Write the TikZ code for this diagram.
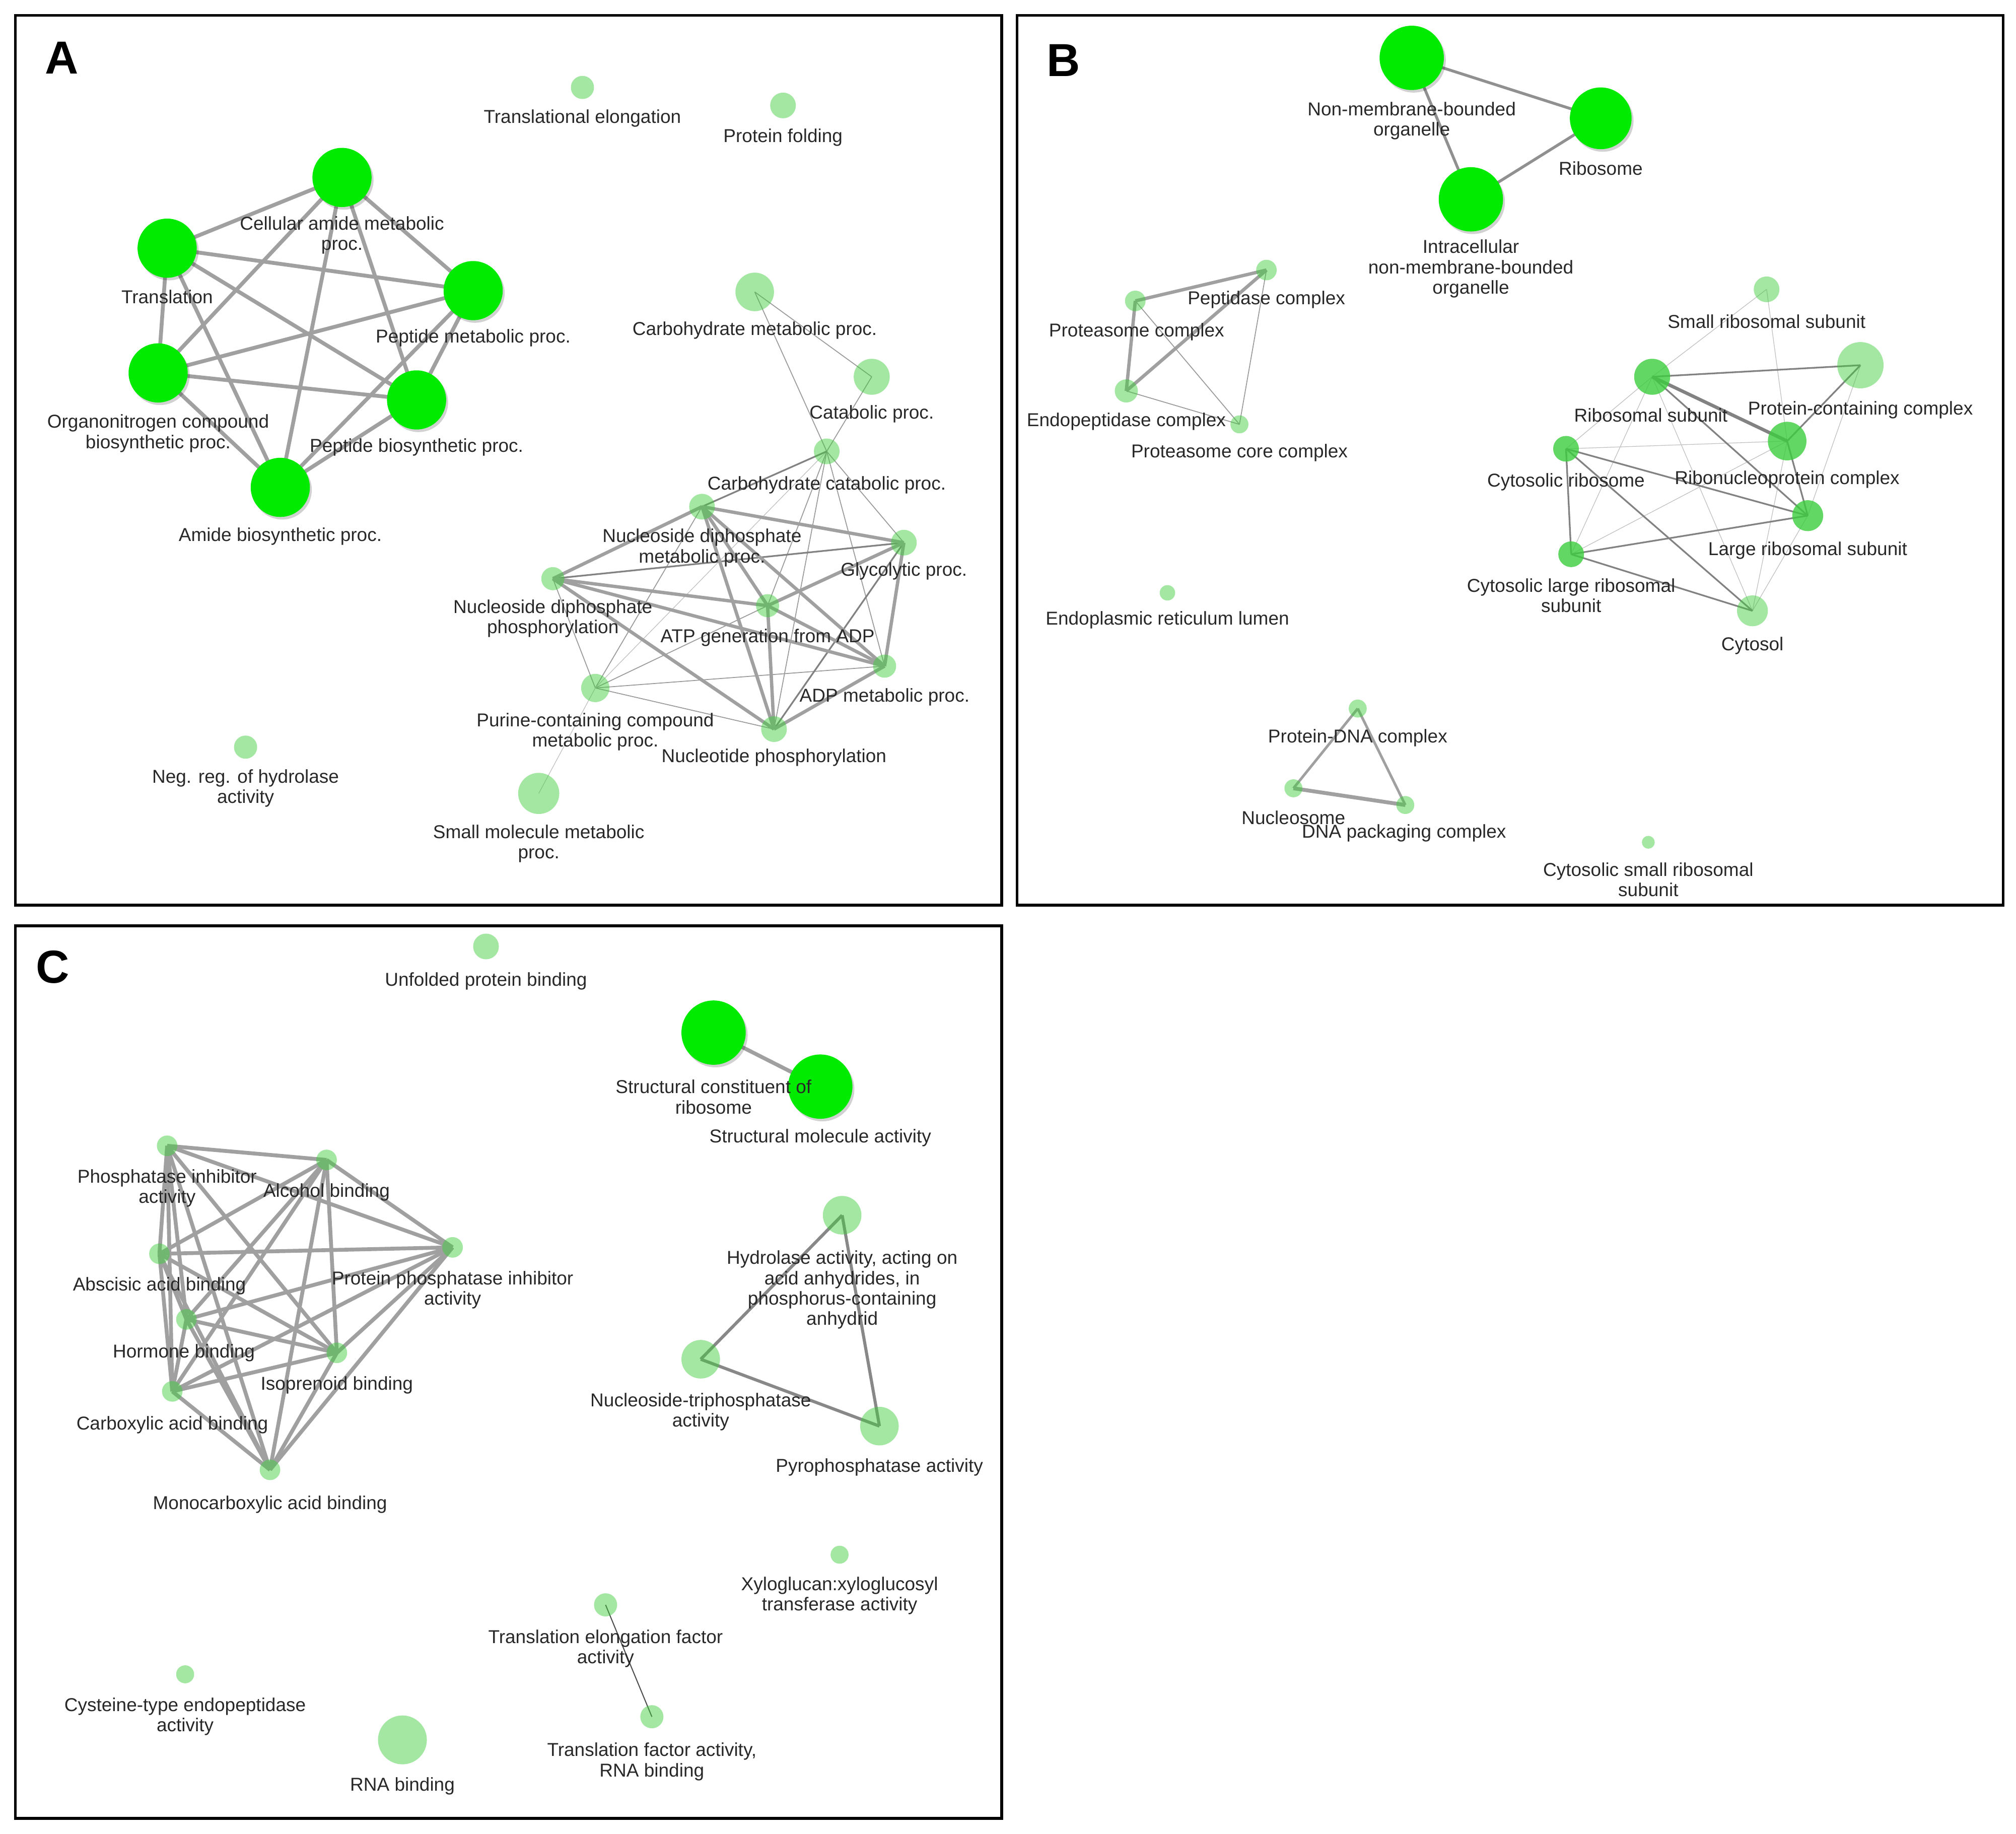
\documentclass[tikz,border=0pt]{standalone}
\usepackage{fontspec}
\setmainfont{Liberation Sans}
\usetikzlibrary{backgrounds,shadows}
\definecolor{brightg}{RGB}{0,235,0}
\definecolor{lightg}{RGB}{60,205,60}
\definecolor{txt}{RGB}{40,40,40}
\definecolor{edg}{RGB}{160,160,160}
\definecolor{edgd}{RGB}{130,130,130}
\begin{document}
\begin{tikzpicture}[x=1pt,y=-1pt,
  bn/.style={circle,fill=brightg,inner sep=0pt,minimum size=#1,
    drop shadow={shadow xshift=1.5pt,shadow yshift=-2pt,opacity=0.18,fill=black}},
  ln/.style={circle,fill=lightg,fill opacity=0.47,inner sep=0pt,minimum size=#1},
  mn/.style={circle,fill=lightg,fill opacity=0.8,inner sep=0pt,minimum size=#1},
  lab/.style={text=txt,font=\fontsize{14.5}{15.8}\selectfont,align=center,inner sep=0pt},
  plet/.style={font=\fontsize{36}{36}\selectfont\bfseries,text=black,inner sep=0pt},
  frame/.style={draw=black,line width=2.2pt},
  eb/.style={draw=edg,line width=3pt},
  ek/.style={draw=edg,line width=2.6pt},
  em/.style={draw=edgd,line width=1.3pt},
  et/.style={draw=edgd!80,line width=0.7pt},
  ex/.style={draw=edgd!50,line width=0.5pt}]
\useasboundingbox (0,0) rectangle (1568,1426.2);
% frames
\draw[frame] (12,12) rectangle (779,704);
\draw[frame] (791,12) rectangle (1558,704);
\draw[frame] (12,720) rectangle (779,1414);
\node[plet] (pA) at (48,45) {A};
\node[plet] (pB) at (827,47) {B};
\node[plet] (pC) at (41,752) {C};

% ================= Panel A =================
\node[ln=18pt] (tel) at (453,68) {};
\node[lab] (ltel) at (453,92) {Translational elongation};
\node[ln=20pt] (pf) at (609,82) {};
\node[lab] (lpf) at (609,107) {Protein folding};

\node[bn=46pt] (cam) at (266,138) {};
\node[bn=46pt] (tr) at (130,193) {};
\node[bn=46pt] (pmp) at (368,226) {};
\node[bn=46pt] (ocb) at (123,290) {};
\node[bn=46pt] (pbp) at (324,311) {};
\node[bn=46pt] (abp) at (218,379) {};
\node[lab] (lcam) at (266,183) {Cellular amide metabolic\\proc.};
\node[lab] (ltr) at (130,231) {Translation};
\node[lab] (lpmp) at (368,263) {Peptide metabolic proc.};
\node[lab] (locb) at (123,337) {Organonitrogen compound\\biosynthetic proc.};
\node[lab] (lpbp) at (324,348) {Peptide biosynthetic proc.};
\node[lab] (labp) at (218,417) {Amide biosynthetic proc.};

\node[ln=30pt] (cmp) at (587,227) {};
\node[ln=28pt] (cat) at (678,293) {};
\node[ln=20pt] (ccp) at (643,351) {};
\node[ln=20pt] (ndm) at (546,394) {};
\node[ln=20pt] (gly) at (703,422) {};
\node[ln=18pt] (ndp) at (430,450) {};
\node[ln=18pt] (atp) at (597,471) {};
\node[ln=18pt] (adp) at (688,518) {};
\node[ln=22pt] (pur) at (463,535) {};
\node[ln=20pt] (nph) at (602,567) {};
\node[ln=32pt] (smm) at (419,617) {};
\node[ln=18pt] (neg) at (191,581) {};
\node[lab] (lcmp) at (587,257) {Carbohydrate metabolic proc.};
\node[lab] (lcat) at (678,322) {Catabolic proc.};
\node[lab] (lccp) at (643,377) {Carbohydrate catabolic proc.};
\node[lab] (lndm) at (546,426) {Nucleoside diphosphate\\metabolic proc.};
\node[lab] (lgly) at (703,444) {Glycolytic proc.};
\node[lab] (lndp) at (430,481) {Nucleoside diphosphate\\phosphorylation};
\node[lab] (latp) at (597,496) {ATP generation from ADP};
\node[lab] (ladp) at (688,542) {ADP metabolic proc.};
\node[lab] (lpur) at (463,569) {Purine-containing compound\\metabolic proc.};
\node[lab] (lnph) at (602,589) {Nucleotide phosphorylation};
\node[lab] (lsmm) at (419,656) {Small molecule metabolic\\proc.};
\node[lab] (lneg) at (191,613) {Neg. reg. of hydrolase\\activity};

% ================= Panel B =================
\node[bn=50pt] (nmb) at (1098,45) {};
\node[bn=48pt] (rib) at (1245,92) {};
\node[bn=50pt] (inm) at (1144,155) {};
\node[lab] (lnmb) at (1098,94) {Non-membrane-bounded\\organelle};
\node[lab] (lrib) at (1245,131) {Ribosome};
\node[lab] (linm) at (1144,209) {Intracellular\\non-membrane-bounded\\organelle};

\node[ln=16pt] (pep) at (985,210) {};
\node[ln=16pt] (pro) at (883,234) {};
\node[ln=18pt] (endo) at (876,304) {};
\node[ln=14pt] (pcc) at (964,330) {};
\node[lab] (lpep) at (985,233) {Peptidase complex};
\node[lab] (lpro) at (884,258) {Proteasome complex};
\node[lab] (lendo) at (876,328) {Endopeptidase complex};
\node[lab] (lpcc) at (964,352) {Proteasome core complex};
\node[ln=12pt] (erl) at (908,461) {};
\node[lab] (lerl) at (908,482) {Endoplasmic reticulum lumen};

\node[ln=20pt] (srs) at (1374,225) {};
\node[mn=28pt] (rsu) at (1285,293) {};
\node[ln=36pt] (pcx) at (1447,284) {};
\node[mn=30pt] (rnp) at (1390,343) {};
\node[mn=20pt] (cyr) at (1218,349) {};
\node[mn=24pt] (lrs) at (1406,401) {};
\node[mn=20pt] (clr) at (1222,431) {};
\node[ln=24pt] (cyt) at (1363,475) {};
\node[lab] (lsrs) at (1374,250) {Small ribosomal subunit};
\node[lab] (lrsu) at (1284,323) {Ribosomal subunit};
\node[lab] (lpcx) at (1447,319) {Protein-containing complex};
\node[lab] (lrnp) at (1390,373) {Ribonucleoprotein complex};
\node[lab] (lcyr) at (1218,375) {Cytosolic ribosome};
\node[lab] (llrs) at (1406,428) {Large ribosomal subunit};
\node[lab] (lclr) at (1222,463) {Cytosolic large ribosomal\\subunit};
\node[lab] (lcyt) at (1363,502) {Cytosol};

\node[ln=14pt] (pdn) at (1056,551) {};
\node[ln=14pt] (nuc) at (1006,613) {};
\node[ln=14pt] (dpc) at (1093,626) {};
\node[lab] (lpdn) at (1056,574) {Protein-DNA complex};
\node[lab] (lnuc) at (1006,636) {Nucleosome};
\node[lab] (ldpc) at (1092,648) {DNA packaging complex};
\node[ln=10pt] (csr) at (1282,655) {};
\node[lab] (lcsr) at (1282,684) {Cytosolic small ribosomal\\subunit};

% ================= Panel C =================
\node[ln=20pt] (upb) at (378,736) {};
\node[lab] (lupb) at (378,763) {Unfolded protein binding};
\node[bn=50pt] (scr) at (555,803) {};
\node[bn=50pt] (sma) at (638,845) {};
\node[lab] (lscr) at (555,853) {Structural constituent of\\ribosome};
\node[lab] (lsma) at (638,885) {Structural molecule activity};

\node[ln=16pt] (phi) at (130,891) {};
\node[ln=16pt] (alc) at (254,902) {};
\node[ln=16pt] (ppi) at (352,970) {};
\node[ln=16pt] (aba) at (124,975) {};
\node[ln=16pt] (hor) at (145,1026) {};
\node[ln=16pt] (iso) at (262,1052) {};
\node[ln=16pt] (car) at (134,1082) {};
\node[ln=16pt] (mon) at (210,1143) {};
\node[lab] (lphi) at (130,924) {Phosphatase inhibitor\\activity};
\node[lab] (lalc) at (254,927) {Alcohol binding};
\node[lab] (lppi) at (352,1003) {Protein phosphatase inhibitor\\activity};
\node[lab] (laba) at (124,1000) {Abscisic acid binding};
\node[lab] (lhor) at (143,1052) {Hormone binding};
\node[lab] (liso) at (262,1077) {Isoprenoid binding};
\node[lab] (lcar) at (134,1108) {Carboxylic acid binding};
\node[lab] (lmon) at (210,1170) {Monocarboxylic acid binding};

\node[ln=30pt] (hyd) at (655,945) {};
\node[ln=30pt] (ntp) at (545,1057) {};
\node[ln=30pt] (pyr) at (684,1109) {};
\node[lab] (lhyd) at (655,1003) {Hydrolase activity, acting on\\acid anhydrides, in\\phosphorus-containing\\anhydrid};
\node[lab] (lntp) at (545,1098) {Nucleoside-triphosphatase\\activity};
\node[lab] (lpyr) at (684,1141) {Pyrophosphatase activity};

\node[ln=14pt] (xyl) at (653,1209) {};
\node[lab] (lxyl) at (653,1241) {Xyloglucan:xyloglucosyl\\transferase activity};
\node[ln=18pt] (tef) at (471,1248) {};
\node[lab] (ltef) at (471,1282) {Translation elongation factor\\activity};
\node[ln=18pt] (tfa) at (507,1335) {};
\node[lab] (ltfa) at (507,1370) {Translation factor activity,\\RNA binding};
\node[ln=14pt] (cys) at (144,1302) {};
\node[lab] (lcys) at (144,1335) {Cysteine-type endopeptidase\\activity};
\node[ln=38pt] (rna) at (313,1353) {};
\node[lab] (lrna) at (313,1389) {RNA binding};

% ================= Edges =================
\begin{pgfonlayer}{background}
% A left cluster (complete)
\foreach \a/\b in {cam/tr,cam/pmp,cam/ocb,cam/pbp,cam/abp,tr/pmp,tr/ocb,tr/pbp,tr/abp,
  pmp/ocb,pmp/pbp,pmp/abp,ocb/pbp,ocb/abp,pbp/abp}
  \draw[eb] (\a.center) -- (\b.center);
% A right cluster
\foreach \a/\b in {cmp/cat,cmp/ccp,cat/ccp,ccp/gly,ccp/atp,ccp/adp,ccp/nph,
  ndm/pur,ndp/pur,atp/pur,adp/pur,nph/pur}
  \draw[et] (\a.center) -- (\b.center);
\foreach \a/\b in {ccp/pur,pur/smm}
  \draw[ex] (\a.center) -- (\b.center);
\foreach \a/\b in {ccp/ndm,gly/ndp,gly/nph}
  \draw[em] (\a.center) -- (\b.center);
\foreach \a/\b in {ndm/gly,ndm/ndp,ndm/atp,ndm/adp,ndm/nph,gly/atp,gly/adp,
  ndp/atp,ndp/adp,ndp/nph,atp/adp,atp/nph,adp/nph}
  \draw[ek] (\a.center) -- (\b.center);
% B top
\foreach \a/\b in {nmb/rib,nmb/inm,rib/inm}
  \draw[draw=edg!90!black,line width=2.2pt] (\a.center) -- (\b.center);
% B proteasome
\foreach \a/\b in {pro/pep,pro/endo,endo/pep}
  \draw[ek] (\a.center) -- (\b.center);
\foreach \a/\b in {pro/pcc,endo/pcc,pep/pcc}
  \draw[et] (\a.center) -- (\b.center);
% B ribosome cluster
\foreach \a/\b in {srs/rsu,srs/rnp,rsu/cyr,rsu/clr,rsu/cyt,pcx/lrs,cyr/rnp,
  clr/rnp,rnp/cyt,lrs/cyt}
  \draw[ex] (\a.center) -- (\b.center);
\foreach \a/\b in {rsu/pcx,rsu/lrs,pcx/rnp,cyr/lrs,cyr/clr,cyr/cyt,clr/lrs,clr/cyt,rnp/lrs}
  \draw[em] (\a.center) -- (\b.center);
\draw[draw=edgd,line width=2.6pt] (rsu.center) -- (rnp.center);
% B DNA
\draw[draw=edg,line width=2pt] (pdn.center) -- (nuc.center);
\draw[draw=edg,line width=2pt] (pdn.center) -- (dpc.center);
\draw[draw=edg,line width=3pt] (nuc.center) -- (dpc.center);
% C
\draw[draw=edg,line width=3pt] (scr.center) -- (sma.center);
\foreach \a/\b in {phi/alc,phi/ppi,phi/aba,phi/hor,phi/iso,phi/car,phi/mon,
  alc/ppi,alc/aba,alc/hor,alc/iso,alc/car,alc/mon,
  ppi/aba,ppi/hor,ppi/iso,ppi/car,ppi/mon,
  aba/hor,aba/iso,aba/car,aba/mon,
  hor/iso,hor/car,hor/mon,iso/car,iso/mon,car/mon}
  \draw[draw=edg,line width=3pt] (\a.center) -- (\b.center);
\foreach \a/\b in {hyd/ntp,ntp/pyr,pyr/hyd}
  \draw[draw=edg!85!black,line width=2.4pt] (\a.center) -- (\b.center);
\draw[draw=black!70,line width=0.8pt] (tef.center) -- (tfa.center);
\end{pgfonlayer}
\end{tikzpicture}
\end{document}
